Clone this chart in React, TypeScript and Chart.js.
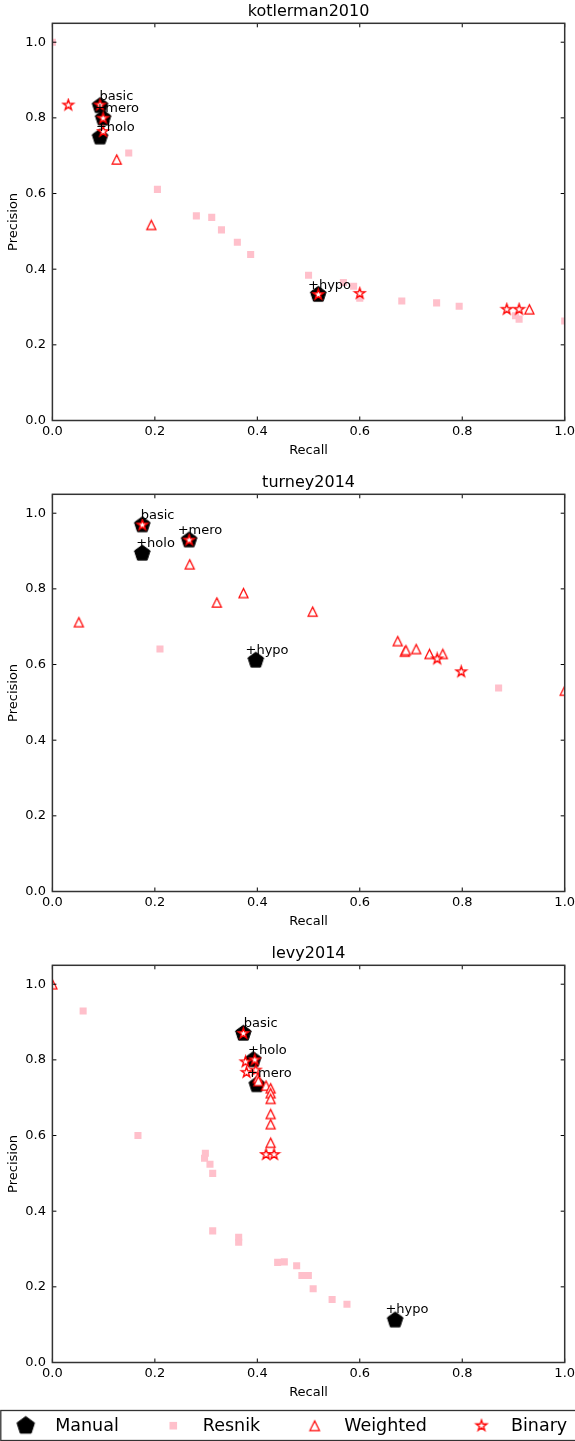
import React, { useEffect, useRef } from 'react';
import { Chart, registerables } from 'chart.js';

Chart.register(...registerables);

const FONT = '"DejaVu Sans", "Liberation Sans", sans-serif';

// ---------- data ----------
const seriesNames = ['Manual', 'Resnik', 'Weighted', 'Binary'];
const xTicks = [0, 0.2, 0.4, 0.6, 0.8, 1.0];
const yTicks = [0, 0.2, 0.4, 0.6, 0.8, 1.0];

// kotlerman2010
const title1 = 'kotlerman2010';
const manual1X = [0.093, 0.099, 0.093, 0.519];
const manual1Y = [0.832, 0.799, 0.749, 0.333];
const labels1 = ['basic', '+mero', '+holo', '+hypo'];
const annot1X = [0.092, 0.082, 0.085, 0.499];
const annot1Y = [0.847, 0.816, 0.765, 0.347];
const resnik1X = [0.0, 0.149, 0.205, 0.281, 0.311, 0.33, 0.361, 0.387, 0.5, 0.568, 0.588, 0.6, 0.682, 0.75, 0.794, 0.904, 0.911, 1.0];
const resnik1Y = [1.0, 0.707, 0.611, 0.541, 0.537, 0.504, 0.471, 0.439, 0.384, 0.365, 0.355, 0.323, 0.316, 0.311, 0.302, 0.277, 0.268, 0.263];
const weighted1X = [0.1255, 0.193, 0.931];
const weighted1Y = [0.69, 0.517, 0.294];
const binary1X = [0.031, 0.093, 0.099, 0.099, 0.519, 0.6, 0.887, 0.911];
const binary1Y = [0.834, 0.834, 0.799, 0.764, 0.333, 0.336, 0.294, 0.294];

// turney2014
const title2 = 'turney2014';
const manual2X = [0.1755, 0.267, 0.1755, 0.397];
const manual2Y = [0.969, 0.929, 0.894, 0.611];
const labels2 = ['basic', '+mero', '+holo', '+hypo'];
const annot2X = [0.1724, 0.2445, 0.1636, 0.377];
const annot2Y = [0.986, 0.945, 0.912, 0.627];
const resnik2X = [0.21, 0.871];
const resnik2Y = [0.641, 0.538];
const weighted2X = [0.0516, 0.268, 0.321, 0.373, 0.508, 0.674, 0.688, 0.69, 0.71, 0.736, 0.762, 1.0];
const weighted2Y = [0.712, 0.865, 0.764, 0.789, 0.74, 0.662, 0.634, 0.638, 0.641, 0.628, 0.628, 0.531];
const binary2X = [0.1755, 0.267, 0.751, 0.798];
const binary2Y = [0.969, 0.929, 0.615, 0.581];

// levy2014
const title3 = 'levy2014';
const manual3X = [0.3727, 0.392, 0.399, 0.669];
const manual3Y = [0.87, 0.8, 0.734, 0.112];
const labels3 = ['basic', '+holo', '+mero', '+hypo'];
const annot3X = [0.3736, 0.382, 0.38, 0.65];
const annot3Y = [0.886, 0.8156, 0.754, 0.1296];
const resnik3X = [0.06, 0.167, 0.2986, 0.297, 0.3076, 0.3129, 0.3129, 0.3636, 0.3636, 0.4397, 0.4527, 0.4768, 0.487, 0.4996, 0.509, 0.546, 0.575];
const resnik3Y = [0.929, 0.6, 0.553, 0.54, 0.524, 0.5, 0.348, 0.331, 0.318, 0.2646, 0.266, 0.2556, 0.23, 0.23, 0.195, 0.1667, 0.154];
const weighted3X = [0.0, 0.401, 0.402, 0.417, 0.426, 0.426, 0.426, 0.426, 0.426, 0.426];
const weighted3Y = [1.0, 0.752, 0.744, 0.732, 0.725, 0.712, 0.697, 0.657, 0.63, 0.581];
const binary3X = [0.3727, 0.377, 0.395, 0.379, 0.397, 0.417, 0.4326];
const binary3Y = [0.87, 0.795, 0.8, 0.767, 0.773, 0.55, 0.55];

type Panel = {
  title: string;
  manualX: number[]; manualY: number[];
  labels: string[]; annotX: number[]; annotY: number[];
  resnikX: number[]; resnikY: number[];
  weightedX: number[]; weightedY: number[];
  binaryX: number[]; binaryY: number[];
};

const panels: Panel[] = [
  { title: title1, manualX: manual1X, manualY: manual1Y, labels: labels1, annotX: annot1X, annotY: annot1Y, resnikX: resnik1X, resnikY: resnik1Y, weightedX: weighted1X, weightedY: weighted1Y, binaryX: binary1X, binaryY: binary1Y },
  { title: title2, manualX: manual2X, manualY: manual2Y, labels: labels2, annotX: annot2X, annotY: annot2Y, resnikX: resnik2X, resnikY: resnik2Y, weightedX: weighted2X, weightedY: weighted2Y, binaryX: binary2X, binaryY: binary2Y },
  { title: title3, manualX: manual3X, manualY: manual3Y, labels: labels3, annotX: annot3X, annotY: annot3Y, resnikX: resnik3X, resnikY: resnik3Y, weightedX: weighted3X, weightedY: weighted3Y, binaryX: binary3X, binaryY: binary3Y },
];

const zip = (xs: number[], ys: number[]) => xs.map((x, i) => ({ x, y: ys[i] }));

// ---------- layout ----------
const W = 575;
const PANEL_H = 471;
const LAST_H = 499;
const AREA_LEFT = 52.4;
const AREA_RIGHT_PAD = 10.3;
const AREA_TOP = 23.3;
const XAXIS_H = 50.5;

// ---------- markers ----------
function markerCanvas(size: number, draw: (ctx: CanvasRenderingContext2D) => void) {
  const c = document.createElement('canvas');
  c.width = size;
  c.height = size;
  const ctx = c.getContext('2d')!;
  ctx.translate(size / 2, size / 2);
  draw(ctx);
  return c;
}
function pentagon(R: number) {
  return markerCanvas(Math.ceil(2 * R + 4), (ctx) => {
    ctx.beginPath();
    for (let k = 0; k < 5; k++) {
      const a = -Math.PI / 2 + (k * 2 * Math.PI) / 5;
      const px = Math.cos(a) * R, py = Math.sin(a) * R;
      if (k === 0) ctx.moveTo(px, py); else ctx.lineTo(px, py);
    }
    ctx.closePath();
    ctx.fillStyle = '#000';
    ctx.fill();
    ctx.lineWidth = 1;
    ctx.strokeStyle = '#000';
    ctx.stroke();
  });
}
function star(R: number) {
  return markerCanvas(Math.ceil(2 * R + 4), (ctx) => {
    const r = R * 0.382;
    ctx.beginPath();
    for (let k = 0; k < 10; k++) {
      const a = -Math.PI / 2 + (k * Math.PI) / 5;
      const rr = k % 2 === 0 ? R : r;
      const px = Math.cos(a) * rr, py = Math.sin(a) * rr;
      if (k === 0) ctx.moveTo(px, py); else ctx.lineTo(px, py);
    }
    ctx.closePath();
    ctx.fillStyle = '#fff';
    ctx.fill();
    ctx.lineWidth = 1.3;
    ctx.strokeStyle = '#ff0000';
    ctx.lineJoin = 'miter';
    ctx.stroke();
  });
}
function triangle(h: number) {
  return markerCanvas(Math.ceil(h + 4), (ctx) => {
    ctx.beginPath();
    ctx.moveTo(0, -h / 2);
    ctx.lineTo(-h / 2, h / 2);
    ctx.lineTo(h / 2, h / 2);
    ctx.closePath();
    ctx.fillStyle = '#fff';
    ctx.fill();
    ctx.lineWidth = 1.25;
    ctx.strokeStyle = '#ff0000';
    ctx.stroke();
  });
}

// ---------- plugins ----------
const framePlugin = {
  id: 'frameAnnot',
  afterDatasetsDraw(chart: any, _args: any, opts: any) {
    const { ctx, chartArea: a } = chart;
    const xs = chart.scales.x, ys = chart.scales.y;
    ctx.save();
    ctx.strokeStyle = '#000';
    ctx.lineWidth = 1;
    // inward ticks
    ctx.beginPath();
    for (const v of xTicks) {
      const px = xs.getPixelForValue(v);
      ctx.moveTo(px, a.bottom); ctx.lineTo(px, a.bottom - 4);
      ctx.moveTo(px, a.top); ctx.lineTo(px, a.top + 4);
    }
    for (const v of yTicks) {
      const py = ys.getPixelForValue(v);
      ctx.moveTo(a.left, py); ctx.lineTo(a.left + 4, py);
      ctx.moveTo(a.right, py); ctx.lineTo(a.right - 4, py);
    }
    ctx.stroke();
    // frame
    ctx.lineWidth = 1.5;
    ctx.strokeStyle = '#333';
    ctx.strokeRect(a.left, a.top, a.right - a.left, a.bottom - a.top);
    // annotations
    const p: Panel = opts.panel;
    ctx.fillStyle = '#000';
    ctx.font = `13px ${FONT}`;
    ctx.textAlign = 'left';
    ctx.textBaseline = 'alphabetic';
    p.labels.forEach((t, i) => {
      ctx.fillText(t, xs.getPixelForValue(p.annotX[i]), ys.getPixelForValue(p.annotY[i]));
    });
    ctx.restore();
  },
};

function makeLegendPlugin(mk: { pent: HTMLCanvasElement; tri: HTMLCanvasElement; star: HTMLCanvasElement }) {
  return {
    id: 'boxLegend',
    afterDraw(chart: any) {
      const { ctx } = chart;
      const top = 1410.5 - 2 * PANEL_H;
      const bottom = LAST_H - 0.5;
      const cy = 1425.7 - 2 * PANEL_H;
      ctx.save();
      ctx.strokeStyle = '#333';
      ctx.lineWidth = 1.3;
      ctx.strokeRect(0.8, top, W + 20, bottom - top);
      ctx.font = `17.5px ${FONT}`;
      ctx.fillStyle = '#000';
      ctx.textAlign = 'left';
      ctx.textBaseline = 'middle';
      let x = 25.7;
      seriesNames.forEach((name, i) => {
        if (i === 0) ctx.drawImage(mk.pent, x - mk.pent.width / 2, cy - mk.pent.height / 2);
        else if (i === 1) { ctx.fillStyle = '#FFC0CB'; ctx.fillRect(x - 3.8, cy - 3.8, 7.6, 7.6); ctx.fillStyle = '#000'; }
        else if (i === 2) ctx.drawImage(mk.tri, x - mk.tri.width / 2, cy - mk.tri.height / 2);
        else ctx.drawImage(mk.star, x - mk.star.width / 2, cy - mk.star.height / 2);
        const tx = x + 29.5;
        ctx.fillText(name, tx, cy + 0.5);
        x = tx + ctx.measureText(name).width + 54.5;
      });
      ctx.restore();
    },
  };
}

function panelConfig(p: Panel, mk: any, isLast: boolean, legendPlugin: any): any {
  const tickFont = { family: FONT, size: 13 };
  return {
    type: 'scatter',
    data: {
      datasets: [
        { label: seriesNames[0], data: zip(p.manualX, p.manualY), pointStyle: mk.pent, pointRadius: 8, order: 4 },
        { label: seriesNames[1], data: zip(p.resnikX, p.resnikY), pointStyle: 'rect', pointRadius: 5, backgroundColor: '#FFC0CB', borderColor: '#FFC0CB', borderWidth: 0, order: 3 },
        { label: seriesNames[2], data: zip(p.weightedX, p.weightedY), pointStyle: mk.tri, pointRadius: 5, order: 2 },
        { label: seriesNames[3], data: zip(p.binaryX, p.binaryY), pointStyle: mk.star, pointRadius: 5, order: 1 },
      ],
    },
    options: {
      animation: false,
      responsive: false,
      events: [],
      layout: { autoPadding: false, padding: { left: 0, top: 0, right: AREA_RIGHT_PAD, bottom: isLast ? LAST_H - PANEL_H : 0 } },
      plugins: {
        legend: { display: false },
        tooltip: { enabled: false },
        title: {
          display: true, text: p.title, fullSize: false, color: '#000',
          font: { family: FONT, size: 16, weight: 'normal', lineHeight: 1.2 },
          padding: { top: 2, bottom: AREA_TOP - 2 - 19.2 },
        },
        frameAnnot: { panel: p },
      },
      scales: {
        x: {
          type: 'linear', min: 0, max: 1,
          afterBuildTicks: (s: any) => { s.ticks = xTicks.map((v) => ({ value: v })); },
          afterFit: (s: any) => { s.height = XAXIS_H; s.paddingLeft = 0; s.paddingRight = 0; },
          grid: { display: false, drawTicks: false },
          border: { display: false },
          ticks: { padding: 3, color: '#000', font: tickFont, maxRotation: 0, autoSkip: false, callback: (v: any) => Number(v).toFixed(1) },
          title: { display: true, text: 'Recall', color: '#000', font: { family: FONT, size: 13 }, padding: { top: 0, bottom: 12.9 } },
        },
        y: {
          type: 'linear', min: 0, max: 1.05,
          afterBuildTicks: (s: any) => { s.ticks = yTicks.map((v) => ({ value: v })); },
          afterFit: (s: any) => { s.width = AREA_LEFT; s.paddingTop = 0; s.paddingBottom = 0; },
          grid: { display: false, drawTicks: false },
          border: { display: false },
          ticks: { padding: 6.5, color: '#000', font: tickFont, autoSkip: false, callback: (v: any) => Number(v).toFixed(1) },
          title: { display: true, text: 'Precision', color: '#000', font: { family: FONT, size: 13 }, padding: { top: 6.2, bottom: 0 } },
        },
      },
    },
    plugins: isLast ? [framePlugin, legendPlugin] : [framePlugin],
  };
}

export default function App() {
  const r0 = useRef<HTMLCanvasElement>(null);
  const r1 = useRef<HTMLCanvasElement>(null);
  const r2 = useRef<HTMLCanvasElement>(null);
  const refs = [r0, r1, r2];

  useEffect(() => {
    const mk = { pent: pentagon(8.2), tri: triangle(9), star: star(5.5) };
    const lmk = { pent: pentagon(9.2), tri: triangle(9.6), star: star(5.7) };
    const legendPlugin = makeLegendPlugin(lmk);
    const charts = panels.map((p, i) => new Chart(refs[i].current as HTMLCanvasElement, panelConfig(p, mk, i === 2, legendPlugin)));
    return () => charts.forEach((c) => c.destroy());
  }, []);

  return (
    <div style={{ position: 'absolute', left: 0, top: 0, width: W, height: 1441, background: '#fff', overflow: 'hidden' }}>
      {panels.map((p, i) => (
        <canvas
          key={p.title}
          ref={refs[i]}
          width={W}
          height={i === 2 ? LAST_H : PANEL_H}
          style={{ position: 'absolute', left: 0, top: i * PANEL_H, display: 'block', width: W, height: i === 2 ? LAST_H : PANEL_H }}
        />
      ))}
    </div>
  );
}
